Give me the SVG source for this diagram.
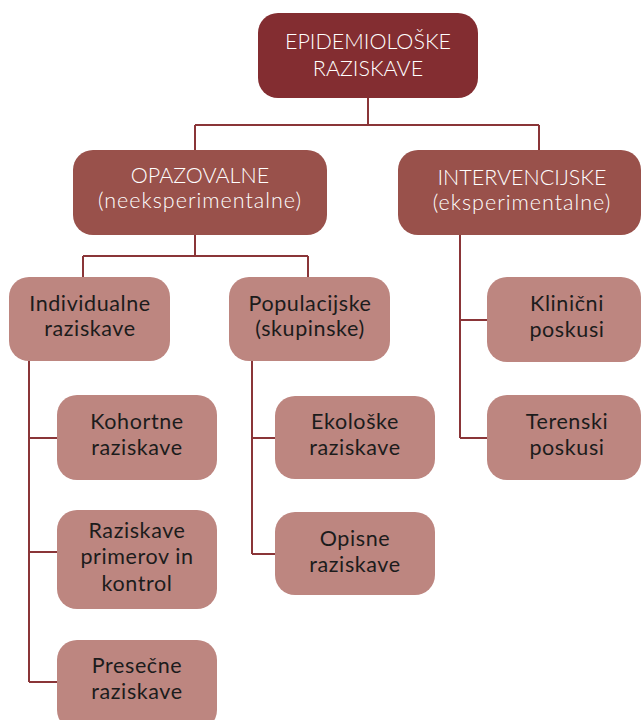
<svg xmlns="http://www.w3.org/2000/svg" width="641" height="720" viewBox="0 0 641 720">
<style>
.t{font-family:Lato,"Open Sans","Liberation Sans",sans-serif;font-size:21.5px;text-anchor:middle}
.w{fill:#ffffff;font-weight:300}
.lw{letter-spacing:1px}
.d{fill:#1c1c1c;letter-spacing:0.6px}
.n0{fill:#832d31}
.n1{fill:#99514b}
.n2{fill:#bd8680}
.c{fill:none;stroke:#8a3538;stroke-width:2}
</style>
<rect width="641" height="720" fill="#ffffff"/>
<g id="connectors">
<path class="c" d="M368 98V125M195 125H539M195 125V150M539 125V150"/>
<path class="c" d="M195 235V256M83 256H308M83 256V277M308 256V277"/>
<path class="c" d="M29 361V682M29 438H57M29 552H57M29 682H57"/>
<path class="c" d="M252 361V554M252 438H275M252 554H275"/>
<path class="c" d="M460 235V438M460 320H487M460 438H487"/>
</g>
<g id="epidemioloske">
<rect class="n0" x="258" y="13" width="220" height="85" rx="20"/>
<text class="t w" x="368" y="49">EPIDEMIOLOŠKE</text>
<text class="t w" x="368" y="76">RAZISKAVE</text>
</g>
<g id="opazovalne">
<rect class="n1" x="73" y="150" width="254" height="85" rx="20"/>
<text class="t w" x="200" y="183">OPAZOVALNE</text>
<text class="t w lw" x="200" y="208">(neeksperimentalne)</text>
</g>
<g id="intervencijske">
<rect class="n1" x="398" y="150" width="243" height="85" rx="20"/>
<text class="t w" x="522" y="185">INTERVENCIJSKE</text>
<text class="t w lw" x="522" y="210">(eksperimentalne)</text>
</g>
<g id="individualne">
<rect class="n2" x="9" y="277" width="161" height="84" rx="20"/>
<text class="t d" x="90" y="311">Individualne</text>
<text class="t d" x="90" y="336">raziskave</text>
</g>
<g id="populacijske">
<rect class="n2" x="229" y="277" width="161" height="84" rx="20"/>
<text class="t d" x="310" y="311">Populacijske</text>
<text class="t d" x="310" y="336">(skupinske)</text>
</g>
<g id="klinicni">
<rect class="n2" x="487" y="277" width="154" height="85" rx="20"/>
<text class="t d" x="567" y="311">Klinični</text>
<text class="t d" x="567" y="337">poskusi</text>
</g>
<g id="kohortne">
<rect class="n2" x="57" y="395" width="160" height="85" rx="20"/>
<text class="t d" x="137" y="429">Kohortne</text>
<text class="t d" x="137" y="455">raziskave</text>
</g>
<g id="ekoloske">
<rect class="n2" x="275" y="396" width="160" height="83" rx="20"/>
<text class="t d" x="355" y="429">Ekološke</text>
<text class="t d" x="355" y="455">raziskave</text>
</g>
<g id="terenski">
<rect class="n2" x="487" y="395" width="154" height="85" rx="20"/>
<text class="t d" x="567" y="429">Terenski</text>
<text class="t d" x="567" y="455">poskusi</text>
</g>
<g id="primerov">
<rect class="n2" x="57" y="510" width="160" height="99" rx="20"/>
<text class="t d" x="137" y="538">Raziskave</text>
<text class="t d" x="137" y="564">primerov in</text>
<text class="t d" x="137" y="591">kontrol</text>
</g>
<g id="opisne">
<rect class="n2" x="275" y="512" width="160" height="83" rx="20"/>
<text class="t d" x="355" y="546">Opisne</text>
<text class="t d" x="355" y="572">raziskave</text>
</g>
<g id="presecne">
<rect class="n2" x="57" y="640" width="160" height="90" rx="20"/>
<text class="t d" x="137" y="673">Presečne</text>
<text class="t d" x="137" y="699">raziskave</text>
</g>
</svg>
